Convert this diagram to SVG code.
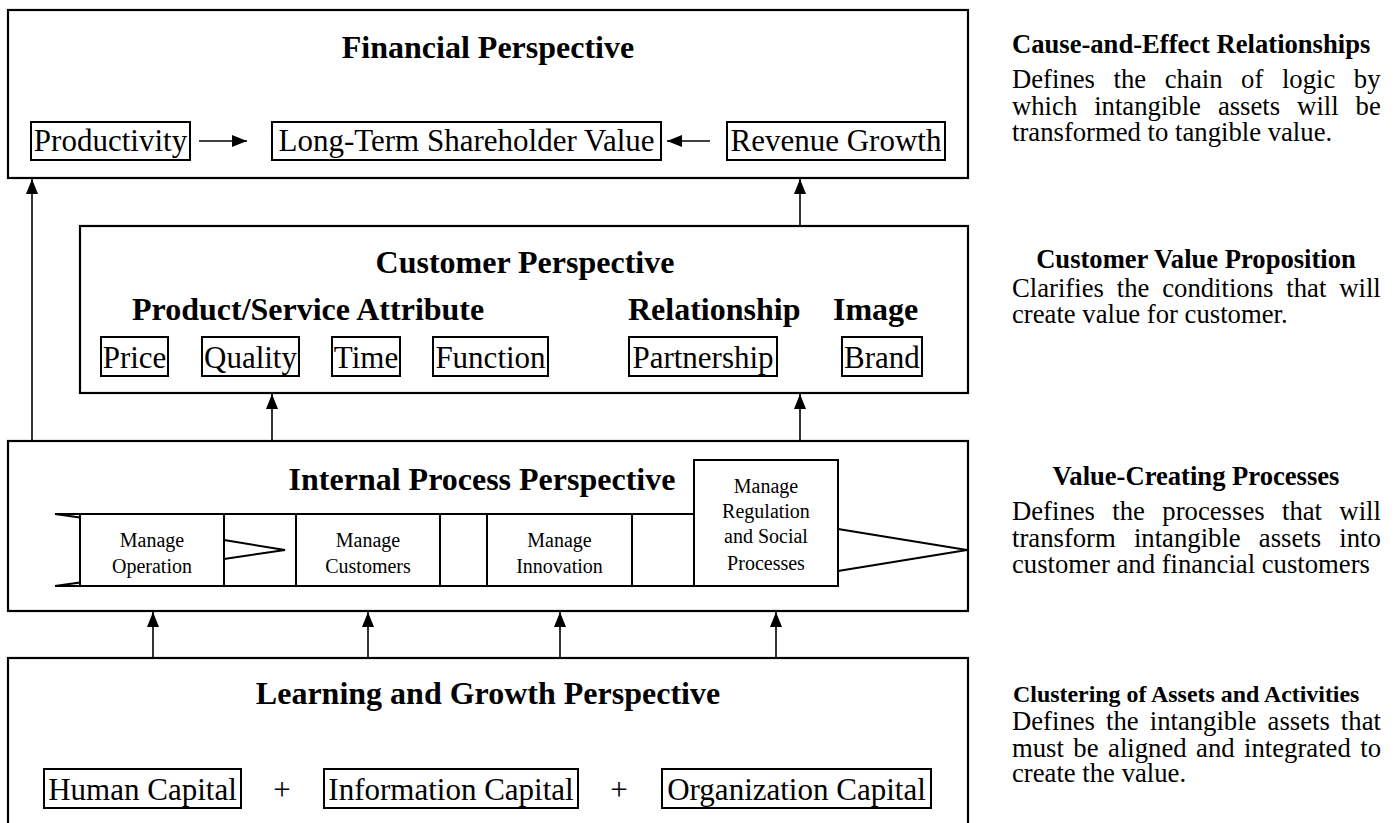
<svg xmlns="http://www.w3.org/2000/svg" width="1400" height="823" viewBox="0 0 1400 823">
<style>
text{font-family:"Liberation Serif","Times New Roman",serif;fill:#000}
.title{font-size:32px;font-weight:bold;text-anchor:middle}
.sub{font-size:32px;font-weight:bold}
.item{font-size:31px;text-anchor:middle}
.small{font-size:20px;text-anchor:middle}
.head{font-size:26.6px;font-weight:bold}
.body{font-size:26.7px}
.box{fill:#fff;stroke:#000;stroke-width:2.2}
.ibox{fill:none;stroke:#000;stroke-width:2}
.band{fill:#fff;stroke:#000;stroke-width:2}
.ln{fill:none;stroke:#000;stroke-width:2}
.conn{fill:none;stroke:#000;stroke-width:1.6}
</style>
<defs>
<marker id="ah" markerUnits="userSpaceOnUse" markerWidth="16" markerHeight="14" refX="15" refY="7" orient="auto">
<path d="M0,1 L15,7 L0,13 z" fill="#000"/>
</marker>
</defs>
<rect x="0" y="0" width="1400" height="823" fill="#fff"/>

<g id="financial">
<rect class="box" x="8" y="10" width="960" height="168"/>
<text class="title" x="488" y="58">Financial Perspective</text>
<rect class="ibox" x="31" y="122" width="159" height="38"/>
<text class="item" x="110.5" y="151">Productivity</text>
<rect class="ibox" x="272" y="122" width="389" height="38"/>
<text class="item" x="466.5" y="151">Long-Term Shareholder Value</text>
<rect class="ibox" x="727" y="122" width="218" height="38"/>
<text class="item" x="836" y="151">Revenue Growth</text>
</g>

<g id="customer">
<rect class="box" x="80" y="226" width="888" height="167"/>
<text class="title" x="525" y="273">Customer Perspective</text>
<text class="sub" x="132" y="320">Product/Service Attribute</text>
<text class="sub" x="628" y="320">Relationship</text>
<text class="sub" x="833" y="320">Image</text>
<rect class="ibox" x="101" y="337" width="67" height="39"/>
<text class="item" x="134.5" y="368">Price</text>
<rect class="ibox" x="202" y="337" width="97" height="39"/>
<text class="item" x="250.5" y="368">Quality</text>
<rect class="ibox" x="332" y="337" width="68" height="39"/>
<text class="item" x="366" y="368">Time</text>
<rect class="ibox" x="433" y="337" width="115" height="39"/>
<text class="item" x="490.5" y="368">Function</text>
<rect class="ibox" x="629" y="337" width="148" height="39"/>
<text class="item" x="703" y="368">Partnership</text>
<rect class="ibox" x="842" y="337" width="80" height="39"/>
<text class="item" x="882" y="368">Brand</text>
</g>

<g id="internal">
<rect class="box" x="8" y="441" width="960" height="170"/>
<text class="title" x="482" y="490">Internal Process Perspective</text>
<line class="ln" x1="55" y1="514" x2="694" y2="514"/>
<line class="ln" x1="55" y1="586" x2="694" y2="586"/>
<line class="ln" x1="55" y1="514" x2="80" y2="517.5"/>
<line class="ln" x1="55" y1="586" x2="80" y2="582.5"/>
<rect class="band" x="80" y="514" width="144" height="72"/>
<rect class="band" x="224" y="514" width="72" height="72"/>
<path class="ln" d="M224,540 L285,550 L224,559"/>
<rect class="band" x="296" y="514" width="144" height="72"/>
<rect class="band" x="440" y="514" width="47" height="72"/>
<rect class="band" x="487" y="514" width="145" height="72"/>
<rect class="band" x="632" y="514" width="62" height="72"/>
<rect class="band" x="694" y="460" width="144" height="126"/>
<path class="ln" d="M838,529 L967,550 L838,571"/>
<text class="small" x="152" y="547">Manage</text>
<text class="small" x="152" y="573">Operation</text>
<text class="small" x="368" y="547">Manage</text>
<text class="small" x="368" y="573">Customers</text>
<text class="small" x="559.5" y="547">Manage</text>
<text class="small" x="559.5" y="573">Innovation</text>
<text class="small" x="766" y="493">Manage</text>
<text class="small" x="766" y="518">Regulation</text>
<text class="small" x="766" y="543">and Social</text>
<text class="small" x="766" y="570">Processes</text>
</g>

<g id="learning">
<rect class="box" x="8" y="658" width="960" height="175"/>
<text class="title" x="488" y="704">Learning and Growth Perspective</text>
<rect class="ibox" x="44" y="769" width="197" height="39"/>
<text class="item" x="142.5" y="800">Human Capital</text>
<text class="item" x="282" y="800">+</text>
<rect class="ibox" x="324" y="769" width="254" height="39"/>
<text class="item" x="451" y="800">Information Capital</text>
<text class="item" x="619" y="800">+</text>
<rect class="ibox" x="662" y="769" width="269" height="39"/>
<text class="item" x="796.5" y="800">Organization Capital</text>
</g>

<g id="connectors">
<line class="conn" x1="199" y1="141" x2="247" y2="141" marker-end="url(#ah)"/>
<line class="conn" x1="710" y1="141" x2="667" y2="141" marker-end="url(#ah)"/>
<line class="conn" x1="32" y1="441" x2="32" y2="179" marker-end="url(#ah)"/>
<line class="conn" x1="800" y1="226" x2="800" y2="179" marker-end="url(#ah)"/>
<line class="conn" x1="272" y1="441" x2="272" y2="394" marker-end="url(#ah)"/>
<line class="conn" x1="800" y1="441" x2="800" y2="394" marker-end="url(#ah)"/>
<line class="conn" x1="153" y1="658" x2="153" y2="612" marker-end="url(#ah)"/>
<line class="conn" x1="368" y1="658" x2="368" y2="612" marker-end="url(#ah)"/>
<line class="conn" x1="560" y1="658" x2="560" y2="612" marker-end="url(#ah)"/>
<line class="conn" x1="776" y1="658" x2="776" y2="612" marker-end="url(#ah)"/>
</g>

<g id="notes">
<text class="head" x="1012" y="53">Cause-and-Effect Relationships</text>
<text class="body" x="1012" y="88" word-spacing="11.9">Defines the chain of logic by</text>
<text class="body" x="1012" y="114.5" word-spacing="10.3">which intangible assets will be</text>
<text class="body" x="1012" y="140.5">transformed to tangible value.</text>

<text class="head" x="1196" y="268" text-anchor="middle">Customer Value Proposition</text>
<text class="body" x="1012" y="297" word-spacing="6.2">Clarifies the conditions that will</text>
<text class="body" x="1012" y="323">create value for customer.</text>

<text class="head" x="1196" y="485" text-anchor="middle">Value-Creating Processes</text>
<text class="body" x="1012" y="520" word-spacing="10.7">Defines the processes that will</text>
<text class="body" x="1012" y="546.5" word-spacing="11.5">transform intangible assets into</text>
<text class="body" x="1012" y="573">customer and financial customers</text>

<text class="head" x="1013" y="702" style="font-size:23.9px">Clustering of Assets and Activities</text>
<text class="body" x="1012" y="730" word-spacing="4.4">Defines the intangible assets that</text>
<text class="body" x="1012" y="757" word-spacing="2.8">must be aligned and integrated to</text>
<text class="body" x="1012" y="782">create the value.</text>
</g>
</svg>
